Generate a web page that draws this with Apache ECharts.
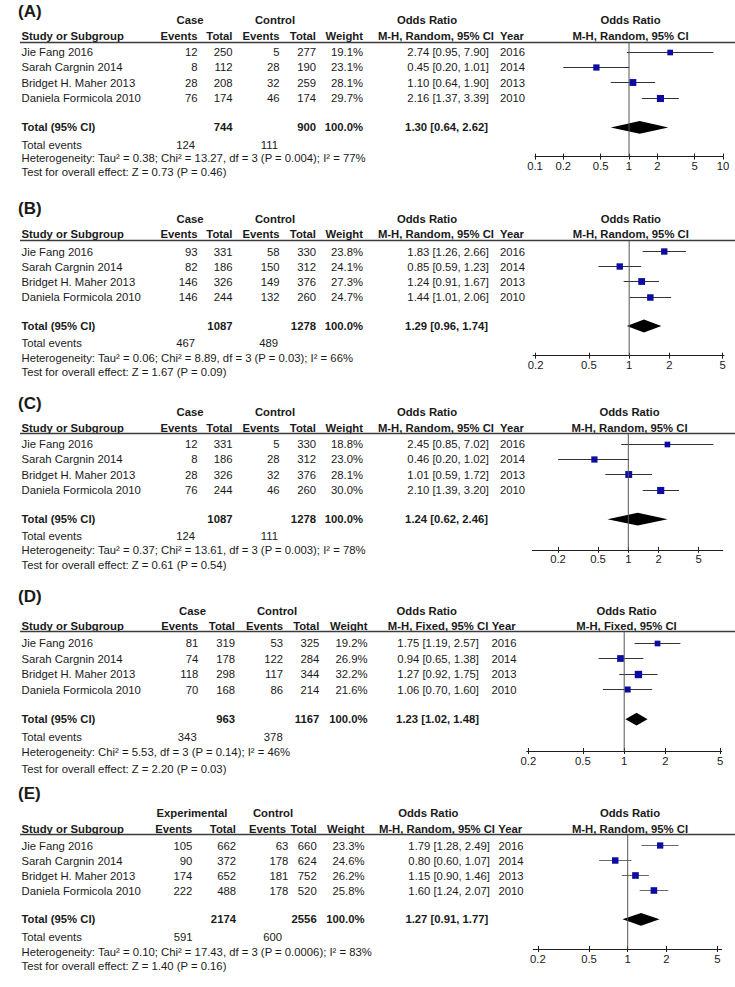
<!DOCTYPE html>
<html>
<head>
<meta charset="utf-8">
<script src="https://cdn.jsdelivr.net/npm/echarts@6/dist/echarts.min.js"></script>
<style>
html,body{margin:0;padding:0;background:#ffffff;}
#c{width:735px;height:987px;}
</style>
</head>
<body>
<div id="c"></div>
<script>
// ---------------- DATA ----------------
const studies = ['Jie Fang 2016', 'Sarah Cargnin 2014', 'Bridget H. Maher 2013', 'Daniela Formicola 2010'];
const studyYears = ['2016', '2014', '2013', '2010'];
const groupsCase = ['Case', 'Control'];
const groupsExp = ['Experimental', 'Control'];
const methodRandom = 'M-H, Random, 95% CI';
const methodFixed = 'M-H, Fixed, 95% CI';
const panelLabels = ['(A)', '(B)', '(C)', '(D)', '(E)'];

// Panel A
const caseEventsA = [12, 8, 28, 76];
const caseTotalA = [250, 112, 208, 174];
const ctrlEventsA = [5, 28, 32, 46];
const ctrlTotalA = [277, 190, 259, 174];
const weightA = [19.1, 23.1, 28.1, 29.7];
const oddsA = [2.74, 0.45, 1.10, 2.16];
const lowerA = [0.95, 0.20, 0.64, 1.37];
const upperA = [7.90, 1.01, 1.90, 3.39];
const pooledA = [1.30, 0.64, 2.62];
const sumTotalA = [744, 900];
const sumEventsA = [124, 111];
const hetA = 'Heterogeneity: Tau\u00B2 = 0.38; Chi\u00B2 = 13.27, df = 3 (P = 0.004); I\u00B2 = 77%';
const effectA = 'Test for overall effect: Z = 0.73 (P = 0.46)';
const ticksA = [0.1, 0.2, 0.5, 1, 2, 5, 10];

// Panel B
const caseEventsB = [93, 82, 146, 146];
const caseTotalB = [331, 186, 326, 244];
const ctrlEventsB = [58, 150, 149, 132];
const ctrlTotalB = [330, 312, 376, 260];
const weightB = [23.8, 24.1, 27.3, 24.7];
const oddsB = [1.83, 0.85, 1.24, 1.44];
const lowerB = [1.26, 0.59, 0.91, 1.01];
const upperB = [2.66, 1.23, 1.67, 2.06];
const pooledB = [1.29, 0.96, 1.74];
const sumTotalB = [1087, 1278];
const sumEventsB = [467, 489];
const hetB = 'Heterogeneity: Tau\u00B2 = 0.06; Chi\u00B2 = 8.89, df = 3 (P = 0.03); I\u00B2 = 66%';
const effectB = 'Test for overall effect: Z = 1.67 (P = 0.09)';
const ticksB = [0.2, 0.5, 1, 2, 5];

// Panel C
const caseEventsC = [12, 8, 28, 76];
const caseTotalC = [331, 186, 326, 244];
const ctrlEventsC = [5, 28, 32, 46];
const ctrlTotalC = [330, 312, 376, 260];
const weightC = [18.8, 23.0, 28.1, 30.0];
const oddsC = [2.45, 0.46, 1.01, 2.10];
const lowerC = [0.85, 0.20, 0.59, 1.39];
const upperC = [7.02, 1.02, 1.72, 3.20];
const pooledC = [1.24, 0.62, 2.46];
const sumTotalC = [1087, 1278];
const sumEventsC = [124, 111];
const hetC = 'Heterogeneity: Tau\u00B2 = 0.37; Chi\u00B2 = 13.61, df = 3 (P = 0.003); I\u00B2 = 78%';
const effectC = 'Test for overall effect: Z = 0.61 (P = 0.54)';
const ticksC = [0.2, 0.5, 1, 2, 5];

// Panel D
const caseEventsD = [81, 74, 118, 70];
const caseTotalD = [319, 178, 298, 168];
const ctrlEventsD = [53, 122, 117, 86];
const ctrlTotalD = [325, 284, 344, 214];
const weightD = [19.2, 26.9, 32.2, 21.6];
const oddsD = [1.75, 0.94, 1.27, 1.06];
const lowerD = [1.19, 0.65, 0.92, 0.70];
const upperD = [2.57, 1.38, 1.75, 1.60];
const pooledD = [1.23, 1.02, 1.48];
const sumTotalD = [963, 1167];
const sumEventsD = [343, 378];
const hetD = 'Heterogeneity: Chi\u00B2 = 5.53, df = 3 (P = 0.14); I\u00B2 = 46%';
const effectD = 'Test for overall effect: Z = 2.20 (P = 0.03)';
const ticksD = [0.2, 0.5, 1, 2, 5];

// Panel E
const caseEventsE = [105, 90, 174, 222];
const caseTotalE = [662, 372, 652, 488];
const ctrlEventsE = [63, 178, 181, 178];
const ctrlTotalE = [660, 624, 752, 520];
const weightE = [23.3, 24.6, 26.2, 25.8];
const oddsE = [1.79, 0.80, 1.15, 1.60];
const lowerE = [1.28, 0.60, 0.90, 1.24];
const upperE = [2.49, 1.07, 1.46, 2.07];
const pooledE = [1.27, 0.91, 1.77];
const sumTotalE = [2174, 2556];
const sumEventsE = [591, 600];
const hetE = 'Heterogeneity: Tau\u00B2 = 0.10; Chi\u00B2 = 17.43, df = 3 (P = 0.0006); I\u00B2 = 83%';
const effectE = 'Test for overall effect: Z = 1.40 (P = 0.16)';
const ticksE = [0.2, 0.5, 1, 2, 5];

// ---------------- STYLE / LAYOUT ----------------
const FONT = "'Liberation Sans', Arial, Helvetica, sans-serif";
const FS = 11.3;
const TEXT = '#1a1a1a';
const SQUARE = '#0c0ca2';

const colsABC = {study:21.5, caseEv:197.5, caseTot:232.5, ctrlEv:279.5, ctrlTot:316, weight:363, or:489, year:500,
  gCase:190, gCtrl:275, orHead:427, mhRight:494, yearHead:500, evCase:195, evCtrl:278, totOr:488,
  hCaseEv:197.5, hCtrlEv:279.5};
const colsD = {study:21.5, caseEv:198.3, caseTot:235, ctrlEv:283, ctrlTot:319.3, weight:367.5, or:479, year:491.5,
  gCase:192.5, gCtrl:277, orHead:426.7, mhRight:488.3, yearHead:491.7, evCase:196.7, evCtrl:282.7, totOr:479,
  hCaseEv:198.3, hCtrlEv:283};
const colsE = {study:21.5, caseEv:192.3, caseTot:236, ctrlEv:288.3, ctrlTot:316.7, weight:364.5, or:490, year:498.5,
  gCase:192, gCtrl:273, orHead:428.3, mhRight:495, yearHead:498.3, evCase:192.5, evCtrl:282, totOr:488.3,
  hCaseEv:192.3, hCtrlEv:286};

const panels = [
  {label:panelLabels[0], groups:groupsCase, method:methodRandom,
   caseEv:caseEventsA, caseTot:caseTotalA, ctrlEv:ctrlEventsA, ctrlTot:ctrlTotalA, weight:weightA,
   odds:oddsA, lower:lowerA, upper:upperA, pooled:pooledA, sumTot:sumTotalA, sumEv:sumEventsA,
   het:hetA, effect:effectA, ticks:ticksA,
   row0:52, rowH:15.47, cols:colsABC, plotHead:630.5, ciColor:'#333333',
   off:{label:-41, group:-31.6, head:-16.4, line:-9.8, total:75.4, events:92.7, het:106.4, test:120.4, axis:104.6},
   plot:{left:535, right:723, min:-1, max:1}},
  {label:panelLabels[1], groups:groupsCase, method:methodRandom,
   caseEv:caseEventsB, caseTot:caseTotalB, ctrlEv:ctrlEventsB, ctrlTot:ctrlTotalB, weight:weightB,
   odds:oddsB, lower:lowerB, upper:upperB, pooled:pooledB, sumTot:sumTotalB, sumEv:sumEventsB,
   het:hetB, effect:effectB, ticks:ticksB,
   row0:251.5, rowH:15.2, cols:colsABC, plotHead:630.8, ciColor:'#333333',
   off:{label:-43.5, group:-32.5, head:-17.5, line:-10.8, total:74.5, events:91.8, het:106.2, test:120.2, axis:104.2},
   plot:{left:533, right:724, min:-0.719, max:0.709}},
  {label:panelLabels[2], groups:groupsCase, method:methodRandom,
   caseEv:caseEventsC, caseTot:caseTotalC, ctrlEv:ctrlEventsC, ctrlTot:ctrlTotalC, weight:weightC,
   odds:oddsC, lower:lowerC, upper:upperC, pooled:pooledC, sumTot:sumTotalC, sumEv:sumEventsC,
   het:hetC, effect:effectC, ticks:ticksC,
   row0:444, rowH:15.47, cols:colsABC, plotHead:629.5, ciColor:'#333333',
   off:{label:-40.3, group:-31.6, head:-16, line:-10.2, total:75.2, events:91.9, het:105.9, test:120.8, axis:105.8},
   plot:{left:532.3, right:722.7, min:-0.955, max:0.939}},
  {label:panelLabels[3], groups:groupsCase, method:methodFixed,
   caseEv:caseEventsD, caseTot:caseTotalD, ctrlEv:ctrlEventsD, ctrlTot:ctrlTotalD, weight:weightD,
   odds:oddsD, lower:lowerD, upper:upperD, pooled:pooledD, sumTot:sumTotalD, sumEv:sumEventsD,
   het:hetD, effect:effectD, ticks:ticksD,
   row0:643.2, rowH:15.57, cols:colsD, plotHead:626.5, ciColor:'#333333',
   off:{label:-46.5, group:-32.6, head:-17.5, line:-11.4, total:76, events:93.4, het:108.4, test:125.3, axis:107.8},
   plot:{left:526.7, right:721.7, min:-0.711, max:0.711}},
  {label:panelLabels[4], groups:groupsExp, method:methodRandom,
   caseEv:caseEventsE, caseTot:caseTotalE, ctrlEv:ctrlEventsE, ctrlTot:ctrlTotalE, weight:weightE,
   odds:oddsE, lower:lowerE, upper:upperE, pooled:pooledE, sumTot:sumTotalE, sumEv:sumEventsE,
   het:hetE, effect:effectE, ticks:ticksE,
   row0:845.5, rowH:15.1, cols:colsE, plotHead:630, ciColor:'#6a6a6a',
   off:{label:-52.2, group:-32.3, head:-16.6, line:-10.6, total:73.8, events:91.7, het:106.1, test:120.1, axis:103.5},
   plot:{left:533.3, right:721.7, min:-0.735, max:0.732}}
];

function fmtOR(o, l, h) { return o.toFixed(2) + ' [' + l.toFixed(2) + ', ' + h.toFixed(2) + ']'; }
function fmtTick(v) { return String(+Math.pow(10, v).toPrecision(3)); }
function crisp(v) { return Math.round(v - 0.5) + 0.5; }

const option = {animation:false, backgroundColor:'#ffffff', grid:[], xAxis:[], yAxis:[], series:[]};

function buildPanel(P) {
  const rowH = P.rowH;
  const R = px => px / rowH;
  const C = P.cols;

  // ---- table grid (x in page pixels, y in row units) ----
  const tg = option.grid.length;
  option.grid.push({left:0, top:P.row0, width:735, height:7 * rowH});
  const txi = option.xAxis.length;
  option.xAxis.push({gridIndex:tg, type:'value', min:0, max:735, show:false});
  const tyi = option.yAxis.length;
  option.yAxis.push({gridIndex:tg, type:'value', min:0, max:7, inverse:true, show:false});

  const cells = [];
  const add = (x, row, text, align, bold, size) =>
    cells.push({value:[x, row], text:String(text), align:align, bold:!!bold, size:size || FS});

  add(18, R(P.off.label), P.label, 'left', true, 17);
  // group headers
  add(C.gCase, R(P.off.group), P.groups[0], 'center', true);
  add(C.gCtrl, R(P.off.group), P.groups[1], 'center', true);
  add(C.orHead, R(P.off.group), 'Odds Ratio', 'center', true);
  add(P.plotHead, R(P.off.group), 'Odds Ratio', 'center', true);
  // column headers
  const hr = R(P.off.head);
  add(C.study, hr, 'Study or Subgroup', 'left', true);
  add(C.hCaseEv, hr, 'Events', 'right', true);
  add(C.caseTot, hr, 'Total', 'right', true);
  add(C.hCtrlEv, hr, 'Events', 'right', true);
  add(C.ctrlTot, hr, 'Total', 'right', true);
  add(C.weight, hr, 'Weight', 'right', true);
  add(C.mhRight, hr, P.method, 'right', true);
  add(C.yearHead, hr, 'Year', 'left', true);
  add(P.plotHead, hr, P.method, 'center', true);
  // study rows
  studies.forEach((s, i) => {
    add(C.study, i, s, 'left');
    add(C.caseEv, i, P.caseEv[i], 'right');
    add(C.caseTot, i, P.caseTot[i], 'right');
    add(C.ctrlEv, i, P.ctrlEv[i], 'right');
    add(C.ctrlTot, i, P.ctrlTot[i], 'right');
    add(C.weight, i, P.weight[i].toFixed(1) + '%', 'right');
    add(C.or, i, fmtOR(P.odds[i], P.lower[i], P.upper[i]), 'right');
    add(C.year, i, studyYears[i], 'left');
  });
  // total row
  const tr = R(P.off.total);
  const wSum = P.weight.reduce((a, b) => a + b, 0);
  add(C.study, tr, 'Total (95% CI)', 'left', true);
  add(C.caseTot, tr, P.sumTot[0], 'right', true);
  add(C.ctrlTot, tr, P.sumTot[1], 'right', true);
  add(C.weight, tr, (Math.round(wSum / 10) * 10).toFixed(1) + '%', 'right', true);
  add(C.totOr, tr, fmtOR(P.pooled[0], P.pooled[1], P.pooled[2]), 'right', true);
  // events, heterogeneity, test
  const er = R(P.off.events);
  add(C.study, er, 'Total events', 'left');
  add(C.evCase, er, P.sumEv[0], 'right');
  add(C.evCtrl, er, P.sumEv[1], 'right');
  add(C.study, R(P.off.het), P.het, 'left');
  add(C.study, R(P.off.test), P.effect, 'left');

  option.series.push({
    type:'custom', xAxisIndex:txi, yAxisIndex:tyi, clip:false, silent:true,
    data:cells.map(c => c.value),
    renderItem:(params, api) => {
      const d = cells[params.dataIndex];
      const pt = api.coord(d.value);
      return {type:'text', x:pt[0], y:pt[1], silent:true,
        style:{text:d.text, align:d.align, verticalAlign:'middle', fontSize:d.size,
          fontWeight:d.bold ? 'bold' : 'normal', fontFamily:FONT, fill:TEXT}};
    }
  });
  // header rule
  option.series.push({
    type:'custom', xAxisIndex:txi, yAxisIndex:tyi, clip:false, silent:true,
    data:[[20, R(P.off.line), 735]],
    renderItem:(params, api) => {
      const a = api.coord([api.value(0), api.value(1)]);
      const b = api.coord([api.value(2), api.value(1)]);
      const y = crisp(a[1]);
      return {type:'line', shape:{x1:a[0], y1:y, x2:b[0], y2:y},
        style:{stroke:'#3c3c3c', lineWidth:1.3}};
    }
  });

  // ---- forest plot grid (x in log10 OR, y in row units) ----
  const pg = option.grid.length;
  option.grid.push({left:P.plot.left, top:P.row0 + P.off.line, width:P.plot.right - P.plot.left,
    height:P.off.axis - P.off.line});
  const tickVals = P.ticks.map(t => Math.log10(t));
  const pxi = option.xAxis.length;
  option.xAxis.push({gridIndex:pg, type:'value', position:'bottom', min:P.plot.min, max:P.plot.max,
    axisLine:{show:true, onZero:false, lineStyle:{color:'#1e1e1e', width:1}},
    axisTick:{show:true, length:3, customValues:tickVals, lineStyle:{color:'#1e1e1e', width:1}},
    axisLabel:{show:true, customValues:tickVals, formatter:v => fmtTick(v), margin:4,
      fontSize:FS, fontFamily:FONT, color:TEXT, showMinLabel:true, showMaxLabel:true},
    splitLine:{show:false}});
  option.xAxis.push({gridIndex:pg, type:'value', position:'bottom', min:P.plot.min, max:P.plot.max,
    axisLine:{show:false, onZero:false},
    axisTick:{show:true, inside:true, length:3, customValues:tickVals, lineStyle:{color:'#1e1e1e', width:1}},
    axisLabel:{show:false}, splitLine:{show:false}});
  const pyi = option.yAxis.length;
  option.yAxis.push({gridIndex:pg, type:'value', min:R(P.off.line), max:R(P.off.axis), inverse:true, show:false});

  // line of no effect (OR = 1)
  option.series.push({
    type:'line', xAxisIndex:pxi, yAxisIndex:pyi, silent:true, symbol:'none',
    data:[[Math.log10(1), R(P.off.line)], [Math.log10(1), R(P.off.axis)]],
    lineStyle:{color:'#555555', width:1}
  });

  // study CIs and squares
  const studyData = studies.map((s, i) => [Math.log10(P.odds[i]), Math.log10(P.lower[i]), Math.log10(P.upper[i]), i, P.weight[i]]);
  const ciColor = P.ciColor;
  option.series.push({
    type:'custom', xAxisIndex:pxi, yAxisIndex:pyi, clip:false, silent:true,
    encode:{x:[0, 1, 2], y:3},
    data:studyData,
    renderItem:(params, api) => {
      const row = api.value(3);
      const c = api.coord([api.value(0), row]);
      const lo = api.coord([api.value(1), row]);
      const hi = api.coord([api.value(2), row]);
      const y = crisp(c[1]);
      const s = 1.3 * Math.sqrt(api.value(4));
      return {type:'group', children:[
        {type:'line', shape:{x1:lo[0], y1:y, x2:hi[0], y2:y}, style:{stroke:ciColor, lineWidth:1}},
        {type:'rect', shape:{x:c[0] - s / 2, y:y - s / 2, width:s, height:s}, style:{fill:SQUARE}}
      ]};
    }
  });

  // pooled diamond
  option.series.push({
    type:'custom', xAxisIndex:pxi, yAxisIndex:pyi, clip:false, silent:true,
    encode:{x:[0, 1, 2], y:3},
    data:[[Math.log10(P.pooled[0]), Math.log10(P.pooled[1]), Math.log10(P.pooled[2]), R(P.off.total)]],
    renderItem:(params, api) => {
      const row = api.value(3);
      const c = api.coord([api.value(0), row]);
      const lo = api.coord([api.value(1), row]);
      const hi = api.coord([api.value(2), row]);
      const h = 6.4;
      return {type:'polygon', shape:{points:[[lo[0], c[1]], [c[0], c[1] - h], [hi[0], c[1]], [c[0], c[1] + h]]},
        style:{fill:'#000000'}};
    }
  });
}

panels.forEach(buildPanel);

const chart = echarts.init(document.getElementById('c'), null, {renderer:'svg', width:735, height:987});
chart.setOption(option);
</script>
</body>
</html>
